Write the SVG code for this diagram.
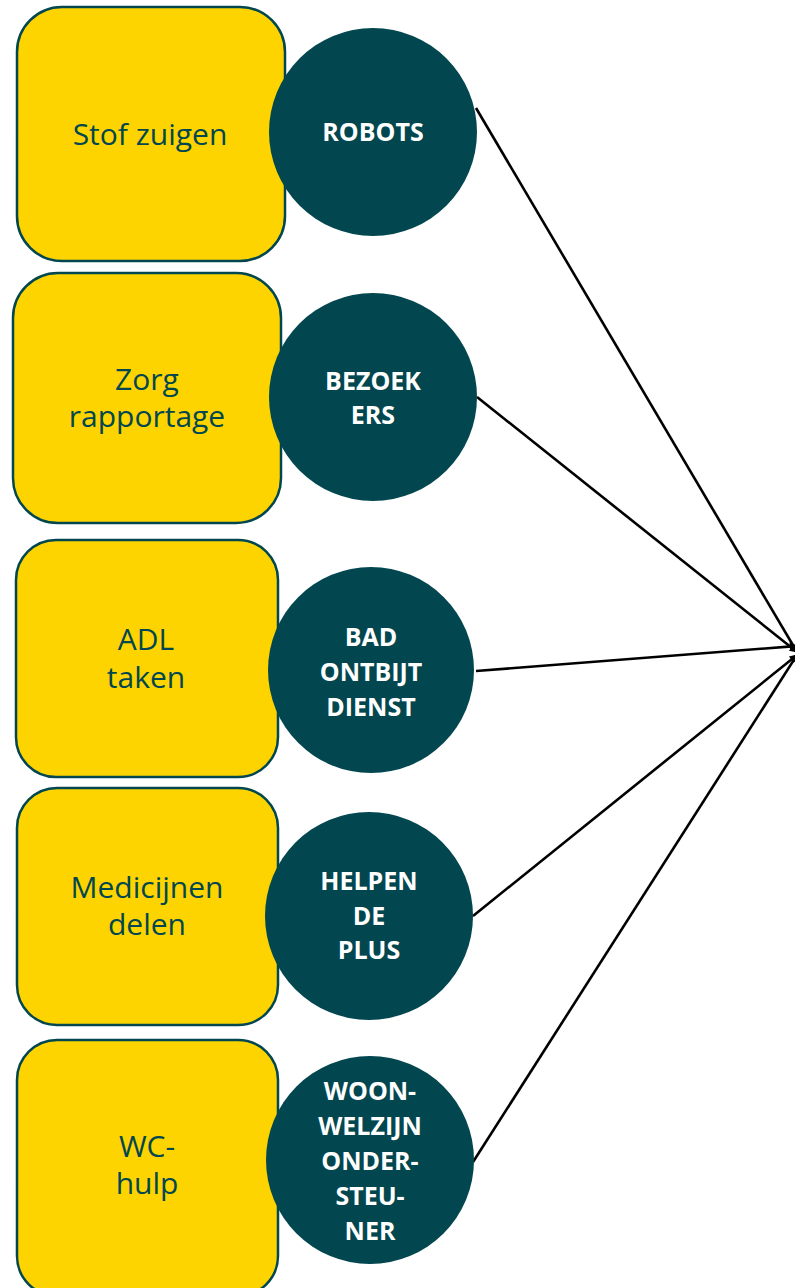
<svg xmlns="http://www.w3.org/2000/svg" width="795" height="1288" viewBox="0 0 795 1288">
<defs>
<style>
.box{fill:#fdd400;stroke:#02474f;stroke-width:2.5}
.circ{fill:#02474f}
.bt{font-family:"Open Sans","Noto Sans",sans-serif;font-size:30px;fill:#02474f;text-anchor:middle}
.ct{font-family:"Open Sans","Noto Sans",sans-serif;font-size:25px;font-weight:bold;fill:#ffffff;text-anchor:middle}
.conn{stroke:#000;stroke-width:2.6;fill:none;marker-end:url(#arr)}
</style>
<marker id="arr" viewBox="0 0 10 10" refX="9" refY="5" markerWidth="8" markerHeight="8" orient="auto" markerUnits="userSpaceOnUse" overflow="visible">
<path d="M0,0 L10,5 L0,10 z" fill="#000"/>
</marker>
</defs>
<g id="connectors">
<line class="conn" x1="476" y1="108" x2="797" y2="652"/>
<line class="conn" x1="477" y1="397" x2="797" y2="652"/>
<line class="conn" x1="476" y1="671" x2="797" y2="646"/>
<line class="conn" x1="473" y1="916" x2="797" y2="655"/>
<line class="conn" x1="473" y1="1162" x2="797" y2="655"/>
</g>
<g id="n1">
<rect class="box" x="17" y="7" width="268" height="254" rx="45"/>
<text class="bt" x="150" y="145">Stof zuigen</text>
</g>
<g id="c1">
<circle class="circ" cx="373" cy="132" r="104"/>
<text class="ct" x="373" y="141">ROBOTS</text>
</g>
<g id="n2">
<rect class="box" x="13" y="273" width="268" height="250" rx="45"/>
<text class="bt" x="147" y="390">Zorg</text>
<text class="bt" x="147" y="427">rapportage</text>
</g>
<g id="c2">
<circle class="circ" cx="373" cy="397" r="104"/>
<text class="ct" x="373" y="390">BEZOEK</text>
<text class="ct" x="373" y="424">ERS</text>
</g>
<g id="n3">
<rect class="box" x="16" y="540" width="262" height="237" rx="40"/>
<text class="bt" x="146" y="650">ADL</text>
<text class="bt" x="146" y="688">taken</text>
</g>
<g id="c3">
<circle class="circ" cx="371" cy="670" r="103"/>
<text class="ct" x="371" y="646">BAD</text>
<text class="ct" x="371" y="681">ONTBIJT</text>
<text class="ct" x="371" y="716">DIENST</text>
</g>
<g id="n4">
<rect class="box" x="17" y="788" width="261" height="237" rx="40"/>
<text class="bt" x="147" y="898">Medicijnen</text>
<text class="bt" x="147" y="935">delen</text>
</g>
<g id="c4">
<circle class="circ" cx="369" cy="916" r="104"/>
<text class="ct" x="369" y="890">HELPEN</text>
<text class="ct" x="369" y="925">DE</text>
<text class="ct" x="369" y="959">PLUS</text>
</g>
<g id="n5">
<rect class="box" x="17" y="1040" width="261" height="256" rx="40"/>
<text class="bt" x="147" y="1157">WC-</text>
<text class="bt" x="147" y="1194">hulp</text>
</g>
<g id="c5">
<circle class="circ" cx="370" cy="1160" r="104"/>
<text class="ct" x="370" y="1100">WOON-</text>
<text class="ct" x="370" y="1135">WELZIJN</text>
<text class="ct" x="370" y="1170">ONDER-</text>
<text class="ct" x="370" y="1205">STEU-</text>
<text class="ct" x="370" y="1240">NER</text>
</g>
</svg>
